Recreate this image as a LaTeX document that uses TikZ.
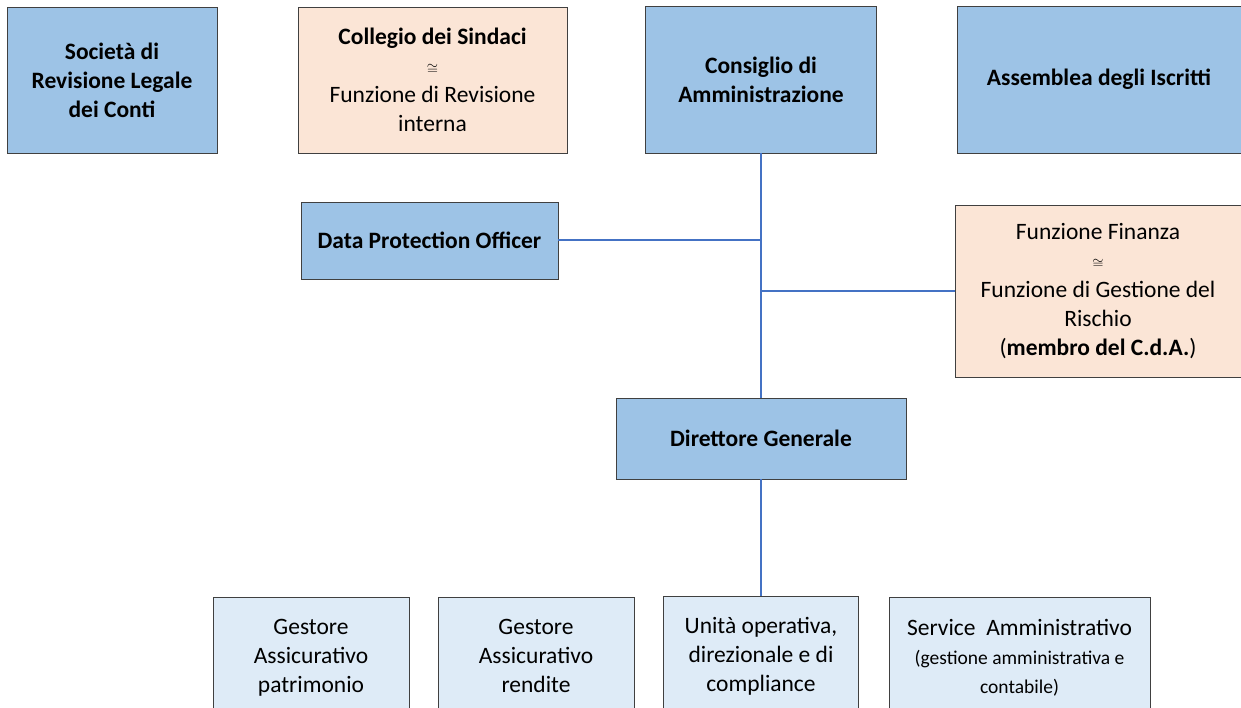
\documentclass[tikz,border=0pt]{standalone}
\usepackage{fontspec}
\setmainfont{Carlito}
\usetikzlibrary{positioning}
\definecolor{boxblue}{HTML}{9DC3E6}
\definecolor{boxpeach}{HTML}{FBE5D6}
\definecolor{boxpale}{HTML}{DEEBF7}
\definecolor{linkblue}{HTML}{4472C4}
\newcommand{\about}{{\fontsize{14}{20}\selectfont$\cong$}}
\newcommand{\smalltxt}{\fontsize{19.5}{24}\selectfont}
\begin{document}
\begin{tikzpicture}[x=1pt,y=-1pt,
  every node/.style={draw=black!75,line width=0.8pt,align=center,inner sep=0pt,
    font=\fontsize{23.5}{29}\selectfont},
  topbox/.style={fill=boxblue,font=\fontsize{23.5}{29}\selectfont\bfseries},
  peachbox/.style={fill=boxpeach},
  subbox/.style={fill=boxpale,minimum height=126pt},
  link/.style={draw=linkblue,line width=2pt}]
%
\useasboundingbox (0,0) rectangle (1241,708);
\clip (0,0) rectangle (1241,708);
%
\node[topbox,minimum width=210pt,minimum height=146pt] (rev) at (112,80) {Società di\\Revisione Legale\\dei Conti};
\node[peachbox,minimum width=269pt,minimum height=146pt] (cs) at (432.5,80) {\textbf{Collegio dei Sindaci}\\\about\\Funzione di Revisione\\interna};
\node[topbox,minimum width=231pt,minimum height=147pt] (cda) at (761,79.5) {Consiglio di\\Amministrazione};
\node[topbox,minimum width=284pt,minimum height=147pt] (ass) at (1099,79.5) {Assemblea degli Iscritti};
%
\node[topbox,minimum width=257pt,minimum height=77pt] (dpo) at (429.5,240.5) {Data Protection Officer};
\node[peachbox,minimum width=286pt,minimum height=172pt] (fin) at (1098,291) {Funzione Finanza\\\about\\Funzione di Gestione del\\Rischio\\(\textbf{membro del C.d.A.})};
\node[topbox,minimum width=290pt,minimum height=81pt] (dg) at (761,438.5) {Direttore Generale};
%
\node[subbox,minimum width=196pt] (gap) at (311,660) {Gestore\\Assicurativo\\patrimonio\strut};
\node[subbox,minimum width=196pt] (gar) at (536,660) {Gestore\\Assicurativo\\rendite\strut};
\node[subbox,minimum width=195pt] (uo) at (761,659) {Unità operativa,\\direzionale e di\\compliance\strut};
\node[subbox,minimum width=261pt] (sa) at (1019.5,660) {Service~ Amministrativo\\\smalltxt (gestione amministrativa e\\\smalltxt contabile)\strut};
%
\draw[link] (cda.south) -- (dg.north);
\draw[link] (dpo.east) -- (dpo.east -| cda.south);
\draw[link] (fin.west) -- (fin.west -| cda.south);
\draw[link] (dg.south) -- (uo.north);
%
\end{tikzpicture}
\end{document}
